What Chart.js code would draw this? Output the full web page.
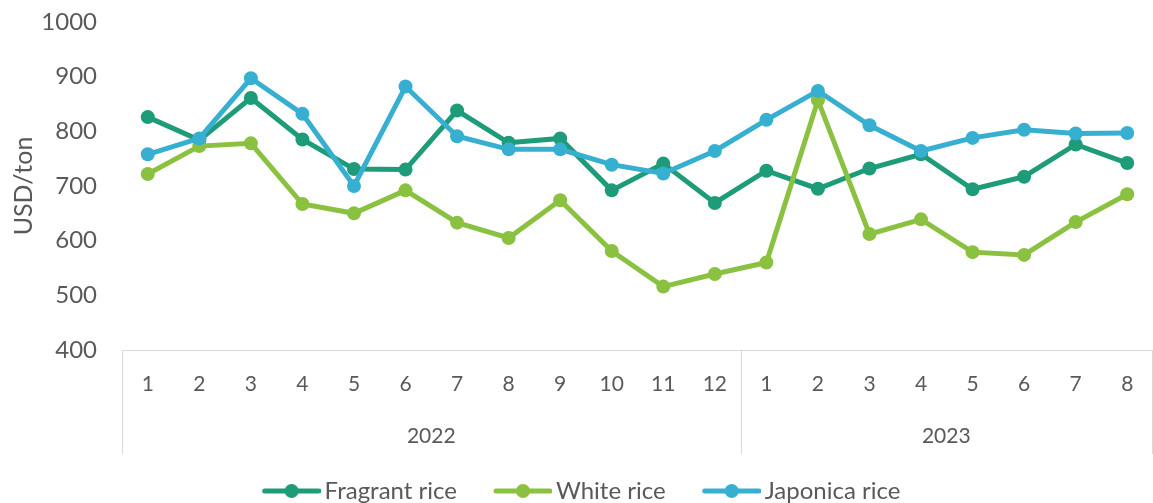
<!DOCTYPE html>
<html lang="en">
<head>
  <meta charset="UTF-8">
  <title>Rice export prices</title>
  <script src="https://cdn.jsdelivr.net/npm/chart.js"></script>
  <style>
    html, body {
      margin: 0;
      overflow: hidden;
      background: #fff;
    }
    .chart-box {
      width: 1153px;
      height: 503px;
    }
  </style>
</head>
<body>
  <div class="chart-box">
    <canvas id="riceChart"></canvas>
  </div>

  <script>
    const months = ['1', '2', '3', '4', '5', '6', '7', '8', '9', '10', '11', '12',
                    '1', '2', '3', '4', '5', '6', '7', '8'];
    const years = ['2022', '2023'];
    const monthsPerYear = [12, 8];

    const fragrant = [826, 784, 861, 785, 731, 730, 838, 779, 787, 692, 741, 669,
                      728, 695, 732, 758, 694, 717, 776, 742];
    const white = [722, 773, 778, 667, 650, 692, 633, 605, 674, 581, 516, 539,
                   560, 857, 612, 639, 579, 574, 634, 685];
    const japonica = [758, 787, 897, 832, 700, 882, 791, 767, 767, 739, 723, 764,
                      821, 874, 811, 764, 788, 803, 796, 797];

    const textColor = '#595959';
    const lineGrey = '#d9d9d9';
    const fontName = 'Lato, "Open Sans", sans-serif';

    // legend picture: line with a dot, blank space on the left for item spacing
    function legendMarker(color) {
      const c = document.createElement('canvas');
      c.width = 88;
      c.height = 16;
      const ctx = c.getContext('2d');
      ctx.strokeStyle = color;
      ctx.lineWidth = 5;
      ctx.lineCap = 'round';
      ctx.beginPath();
      ctx.moveTo(32, 8);
      ctx.lineTo(86, 8);
      ctx.stroke();
      ctx.fillStyle = color;
      ctx.beginPath();
      ctx.arc(59, 8, 7, 0, Math.PI * 2);
      ctx.fill();
      return c;
    }

    function series(label, data, color, order) {
      return {
        label: label,
        data: data,
        borderColor: color,
        backgroundColor: color,
        borderWidth: 5,
        pointRadius: 7,
        pointHoverRadius: 7,
        pointBorderWidth: 0,
        pointStyle: 'circle',
        tension: 0,
        order: order,
        legendMarker: legendMarker(color)
      };
    }

    // year row under the month labels, with the group separators
    const yearAxis = {
      id: 'yearAxis',
      afterLayout(chart) {
        // move the legend down and a bit left, like the excel one
        chart.legend.top += 10;
        chart.legend.bottom += 10;
        chart.legend.left -= 6;
        chart.legend.right -= 6;
      },
      afterDraw(chart) {
        const ctx = chart.ctx;
        const x = chart.scales.x;
        const area = chart.chartArea;
        const top = area.bottom;
        const bottom = x.bottom;
        ctx.save();
        ctx.strokeStyle = lineGrey;
        ctx.lineWidth = 1;
        ctx.fillStyle = textColor;
        ctx.font = '21px ' + fontName;
        ctx.textAlign = 'center';
        ctx.textBaseline = 'middle';
        let start = 0;
        let left = area.left;
        for (let i = 0; i < years.length; i++) {
          const end = start + monthsPerYear[i];
          let right;
          if (end >= months.length) {
            right = area.right - 1;
          } else {
            right = (x.getPixelForValue(end - 1) + x.getPixelForValue(end)) / 2;
          }
          ctx.beginPath();
          ctx.moveTo(Math.round(left) + 0.5, top);
          ctx.lineTo(Math.round(left) + 0.5, bottom);
          ctx.stroke();
          ctx.fillText(years[i], (left + right) / 2, top + 86);
          left = right;
          start = end;
        }
        ctx.beginPath();
        ctx.moveTo(Math.round(left) + 0.5, top);
        ctx.lineTo(Math.round(left) + 0.5, bottom);
        ctx.stroke();
        ctx.restore();
      }
    };

    new Chart(document.getElementById('riceChart'), {
      type: 'line',
      data: {
        labels: months,
        datasets: [
          series('Fragrant rice', fragrant, '#1e9b78', 2),
          series('White rice', white, '#8bc141', 1),
          series('Japonica rice', japonica, '#37afd0', 0)
        ]
      },
      options: {
        responsive: true,
        maintainAspectRatio: false,
        animation: false,
        layout: {
          autoPadding: false,
          padding: 0
        },
        scales: {
          x: {
            offset: true,
            grid: { display: true, drawOnChartArea: false, drawTicks: false, offset: true },
            border: { display: true, color: lineGrey, width: 1 },
            ticks: {
              color: textColor,
              font: { family: fontName, size: 21 },
              padding: 22,
              maxRotation: 0,
              autoSkip: false
            },
            afterFit(scale) {
              scale.height = 104;
              scale.paddingLeft = 0;
              scale.paddingRight = 0;
            }
          },
          y: {
            min: 400,
            max: 1000,
            grid: { display: false, drawTicks: false },
            border: { display: false },
            ticks: {
              stepSize: 100,
              color: textColor,
              font: { family: fontName, size: 24 },
              padding: 25,
              callback: (v) => String(v)
            },
            title: {
              display: true,
              text: 'USD/ton',
              color: textColor,
              font: { family: fontName, size: 25 },
              padding: { top: 9, bottom: 0 }
            },
            afterFit(scale) {
              scale.width = 122;
              scale.paddingTop = 22;
              scale.paddingBottom = 0;
            }
          }
        },
        plugins: {
          tooltip: { enabled: false },
          legend: {
            position: 'bottom',
            labels: {
              color: textColor,
              font: { family: fontName, size: 24 },
              usePointStyle: true,
              pointStyleWidth: 72,
              padding: 15,
              sort: (a, b) => a.datasetIndex - b.datasetIndex,
              generateLabels(chart) {
                return chart.data.datasets.map((ds, i) => ({
                  text: ds.label,
                  fontColor: textColor,
                  pointStyle: ds.legendMarker,
                  fillStyle: ds.borderColor,
                  strokeStyle: ds.borderColor,
                  lineWidth: 0,
                  hidden: false,
                  datasetIndex: i
                }));
              }
            }
          }
        }
      },
      plugins: [yearAxis]
    });
  </script>
</body>
</html>
